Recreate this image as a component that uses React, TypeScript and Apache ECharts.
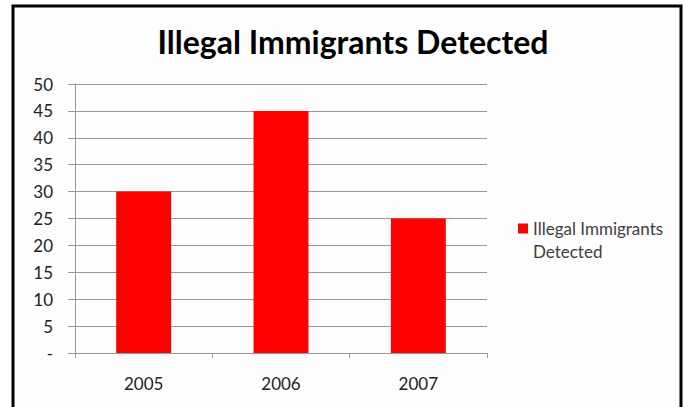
import React, { useEffect, useRef } from "react";
import * as echarts from "echarts";

const categories = ["2005", "2006", "2007"];
const detected = [30, 45, 25];
const seriesName = "Illegal Immigrants Detected";
const titleText = "Illegal Immigrants Detected";

export default function App() {
  const ref = useRef<HTMLDivElement>(null);
  useEffect(() => {
    if (!ref.current) return;
    const chart = echarts.init(ref.current, null, { renderer: "svg" });
    const font = "Lato";
    chart.setOption({
      animation: false,
      backgroundColor: "#ffffff",
      title: {
        text: titleText,
        left: 348,
        textAlign: "center",
        top: 20,
        textStyle: { fontFamily: font, fontWeight: "bold", fontSize: 32, color: "#000" },
      },
      graphic: [
        {
          type: "rect",
          shape: { x: 13, y: 6, width: 668, height: 420 },
          style: { fill: "#fdfdfd", stroke: "#000", lineWidth: 3 },
          z: -10,
        },
      ],
      legend: {
        orient: "vertical",
        left: 518,
        top: 194,
        padding: 0,
        itemWidth: 10,
        itemHeight: 10,
        itemGap: 4,
        icon: "rect",
        formatter: () => "\nIllegal Immigrants\nDetected",
        textStyle: { fontFamily: font, fontSize: 17, color: "#404040", lineHeight: 23 },
        data: [seriesName],
      },
      grid: { left: 75, right: 196, top: 84, bottom: 54 },
      xAxis: {
        type: "category",
        data: categories,
        axisLine: { lineStyle: { color: "#999", width: 1 } },
        axisTick: { show: true, length: 5, lineStyle: { color: "#999" } },
        axisLabel: { margin: 22, fontFamily: font, fontSize: 17, color: "#222" },
      },
      yAxis: {
        type: "value",
        min: 0,
        max: 50,
        interval: 5,
        axisLine: { show: true, lineStyle: { color: "#999" } },
        axisTick: { show: true, length: 7, lineStyle: { color: "#999" } },
        splitLine: { lineStyle: { color: "#999", width: 1 } },
        axisLabel: {
          margin: 22,
          fontFamily: font,
          fontSize: 17,
          color: "#222",
          formatter: (v: number) => (v === 0 ? "-" : String(v)),
        },
      },
      series: [
        {
          name: seriesName,
          type: "bar",
          data: detected,
          barWidth: "40%",
          itemStyle: { color: "#ff0000" },
        },
      ],
    });
    return () => chart.dispose();
  }, []);
  return (
    <div
      ref={ref}
      style={{ position: "fixed", left: 0, top: 0, width: 683, height: 407 }}
    />
  );
}
